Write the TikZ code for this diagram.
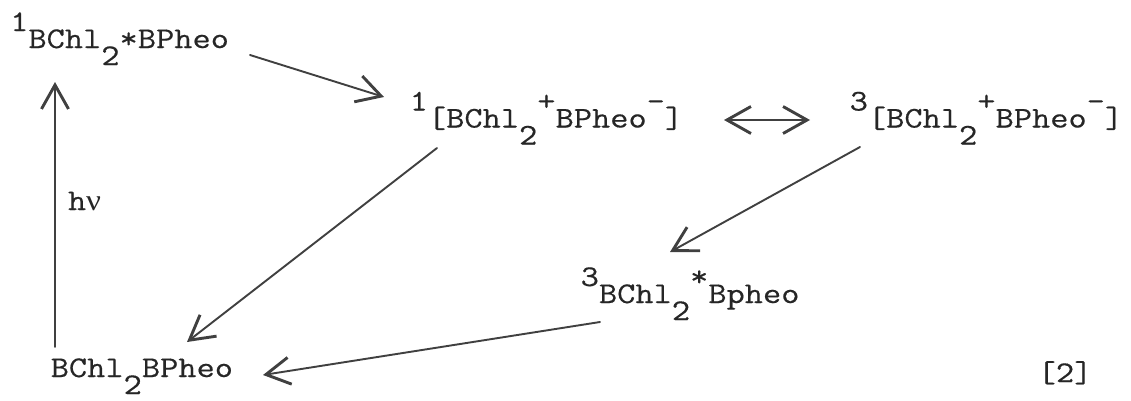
\documentclass[tikz,border=0pt]{standalone}
\usepackage{fontspec}
\newfontfamily\tw[FakeStretch=1.18,FakeBold=0.4]{Latin Modern Mono}
\newfontfamily\gk[FakeStretch=1.1]{Liberation Serif}
\usetikzlibrary{arrows.meta}
\newcommand\hi[1]{\raisebox{17pt}{#1}}
\newcommand\lo[1]{\raisebox{-17pt}{#1}}
\tikzset{
  lbl/.style={anchor=base west, inner sep=0pt, outer sep=0pt, text=black!85,
              font=\tw\fontsize{30pt}{30pt}\selectfont},
  arr/.style={draw=black!75, line width=1.9pt, line cap=round,
              -{Straight Barb[length=24pt,width=27pt,line width=1pt 1]}},
  darr/.style={draw=black!75, line width=1.9pt, line cap=round,
              {Straight Barb[length=24pt,width=27pt,line width=1pt 1]}-{Straight Barb[length=24pt,width=27pt,line width=1pt 1]}}
}
\begin{document}
\begin{tikzpicture}[x=1pt,y=-1pt]
\useasboundingbox[fill=white] (0,0) rectangle (1131,400);
% nodes
\node[lbl] (A) at (10.2,48) {\hi{1}BChl\lo{2}*BPheo};
\node[lbl] (B) at (409.7,127.5) {\hi{1}[BChl\lo{2}\hi{+}BPheo\hi{-}]};
\node[lbl] (C) at (849.7,127.5) {\hi{3}[BChl\lo{2}\hi{+}BPheo\hi{-}]};
\node[lbl] (D) at (580.7,303) {\hi{3}BChl\lo{2}\hi{*}Bpheo};
\node[lbl] (E) at (50.7,377) {BChl\lo{2}BPheo};
\node[lbl] (ref) at (1037.7,382) {[2]};
\node[lbl] (hv) at (68,210) {h{\gk\fontsize{30pt}{30pt}\selectfont ν}};
% connector end points
\coordinate (a1s) at (250,55);   \coordinate (a1e) at (384,97);
\coordinate (a2s) at (437,148);  \coordinate (a2e) at (187,342);
\coordinate (a3s) at (860,147);  \coordinate (a3e) at (670,252);
\coordinate (a4s) at (600,322);  \coordinate (a4e) at (263,375);
\coordinate (a5s) at (55,347);   \coordinate (a5e) at (55,82);
\coordinate (d1) at (724,120);   \coordinate (d2) at (810,120);
% connectors
\draw[arr] (a1s) -- (a1e);
\draw[arr] (a2s) -- (a2e);
\draw[arr] (a3s) -- (a3e);
\draw[arr] (a4s) -- (a4e);
\draw[arr] (a5s) -- (a5e);
\draw[darr] (d1) -- (d2);
\end{tikzpicture}
\end{document}
